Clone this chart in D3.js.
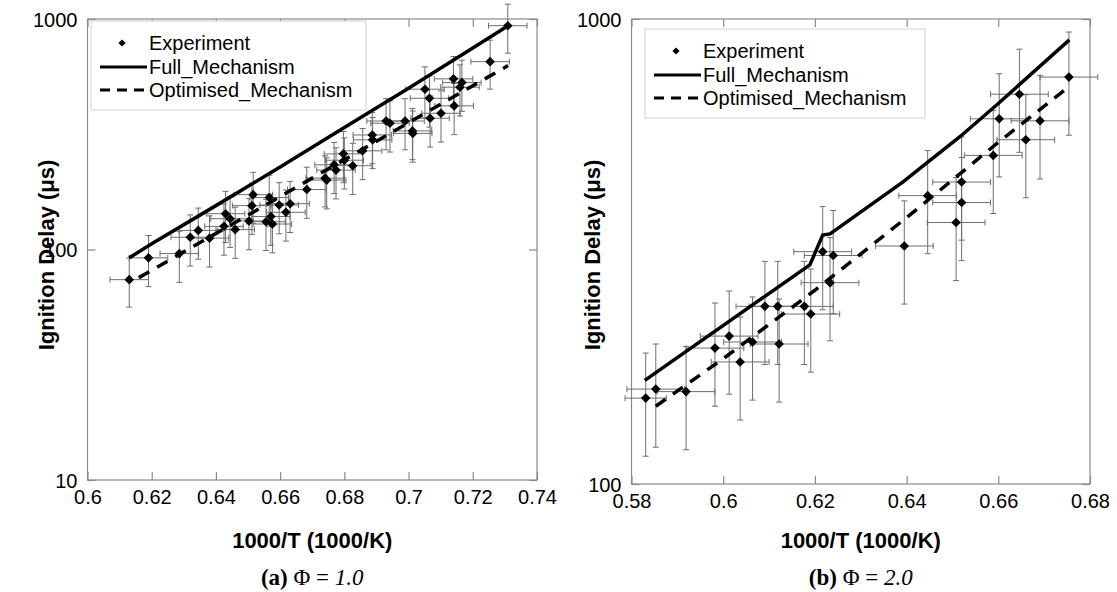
<!DOCTYPE html>
<html>
<head>
<meta charset="utf-8">
<script src="https://cdn.jsdelivr.net/npm/d3@7"></script>
<style>
  body { margin: 0; background: #fff; }
  svg { display: block; }
  text { font-family: "Liberation Sans", Arial, sans-serif; fill: #000; }
</style>
</head>
<body>
<svg id="chart" width="1117" height="592"></svg>
<script>
// ---- panel (a) phi = 1.0 ----
// experiment: [1000/T, delay (us), x error, relative y error]
const expA = [
  [0.613, 74, 0.006, 0.24], [0.619, 92, 0.006, 0.25], [0.6286, 96, 0.006, 0.25],
  [0.632, 113, 0.006, 0.25], [0.6345, 121, 0.006, 0.25], [0.638, 112, 0.006, 0.25],
  [0.6425, 126, 0.006, 0.25], [0.643, 143, 0.006, 0.25], [0.6444, 136, 0.006, 0.25],
  [0.646, 122, 0.006, 0.25], [0.6503, 133, 0.006, 0.25], [0.6512, 155, 0.006, 0.25],
  [0.6516, 173, 0.006, 0.25], [0.6556, 132, 0.006, 0.25], [0.6566, 168, 0.006, 0.25],
  [0.6571, 139, 0.006, 0.25], [0.6576, 129, 0.006, 0.25], [0.6597, 156, 0.006, 0.25],
  [0.6618, 145, 0.006, 0.25], [0.6631, 158, 0.006, 0.25], [0.6683, 182, 0.006, 0.25],
  [0.674, 204, 0.006, 0.25], [0.6745, 200, 0.006, 0.25], [0.6768, 233, 0.006, 0.25],
  [0.6774, 221, 0.006, 0.25], [0.6797, 260, 0.006, 0.25], [0.680, 244, 0.006, 0.25],
  [0.6826, 231, 0.006, 0.25], [0.6857, 268, 0.006, 0.25], [0.6887, 314, 0.006, 0.25],
  [0.6888, 299, 0.006, 0.25], [0.693, 361, 0.006, 0.25], [0.6942, 353, 0.006, 0.25],
  [0.6989, 361, 0.006, 0.25], [0.7012, 327, 0.006, 0.25], [0.7013, 319, 0.006, 0.25],
  [0.7051, 496, 0.006, 0.25], [0.7065, 453, 0.006, 0.25], [0.7067, 371, 0.006, 0.25],
  [0.7101, 390, 0.006, 0.25], [0.714, 550, 0.006, 0.25], [0.7142, 420, 0.006, 0.25],
  [0.716, 506, 0.006, 0.25], [0.7166, 530, 0.006, 0.25], [0.7254, 653, 0.006, 0.24],
  [0.7309, 935, 0.006, 0.24]
]
const fullA_x = [0.613, 0.62, 0.64, 0.66, 0.68, 0.70, 0.72, 0.731]
const fullA_y = [92, 106, 155, 228, 338, 501, 749, 935]
const optA_x = [0.616, 0.63, 0.65, 0.67, 0.69, 0.71, 0.731]
const optA_y = [75.5, 97.7, 141, 204, 295, 427, 628]
const ticksAx = [0.6, 0.62, 0.64, 0.66, 0.68, 0.7, 0.72, 0.74]
const ticksAy = [10, 100, 1000]

// ---- panel (b) phi = 2.0 ----
const expB = [
  [0.5831, 153, 0.0045, 0.25], [0.5853, 160, 0.0063, 0.25], [0.5919, 158, 0.0063, 0.25],
  [0.5982, 196, 0.0063, 0.25], [0.6013, 208, 0.0063, 0.25], [0.6037, 183, 0.0063, 0.25],
  [0.6064, 202, 0.0063, 0.25], [0.6091, 241, 0.0063, 0.25], [0.6119, 241, 0.0063, 0.25],
  [0.6122, 200, 0.0063, 0.25], [0.6177, 241, 0.0063, 0.25], [0.6191, 232, 0.0063, 0.25],
  [0.6217, 316, 0.0063, 0.25], [0.624, 310, 0.0063, 0.25], [0.6233, 271, 0.0063, 0.25],
  [0.6395, 325, 0.0063, 0.25], [0.6446, 417, 0.0063, 0.25], [0.6508, 365, 0.0063, 0.25],
  [0.652, 446, 0.0063, 0.25], [0.652, 403, 0.0063, 0.25], [0.6589, 509, 0.0063, 0.25],
  [0.6602, 610, 0.0063, 0.25], [0.6646, 689, 0.0063, 0.25], [0.666, 550, 0.0063, 0.25],
  [0.6691, 604, 0.0063, 0.25], [0.6754, 750, 0.0063, 0.25]
]
const fullB_x = [0.5829, 0.6189, 0.6217, 0.6233, 0.6393, 0.6429, 0.6517, 0.66, 0.6755]
const fullB_y = [167, 296, 343, 345, 447, 477, 559, 658, 902]
const optB_x = [0.5853, 0.60, 0.62, 0.64, 0.66, 0.6746]
const optB_y = [147, 186, 261, 374, 543, 705]
const ticksBx = [0.58, 0.6, 0.62, 0.64, 0.66, 0.68]
const ticksBy = [100, 1000]

const legendLabels = ['Experiment', 'Full_Mechanism', 'Optimised_Mechanism']

const svg = d3.select('#chart')
const diamond = (r) => `M0,${-r}L${r},0L0,${r}L${-r},0Z`

function panel(cfg) {
  const x = d3.scaleLinear().domain(d3.extent(cfg.xTicks)).range([cfg.left, cfg.right])
  const y = d3.scaleLog().domain(d3.extent(cfg.yTicks)).range([cfg.bottom, cfg.top])
  const g = svg.append('g')

  // frame
  g.append('rect')
    .attr('x', cfg.left).attr('y', cfg.top)
    .attr('width', cfg.right - cfg.left).attr('height', cfg.bottom - cfg.top)
    .attr('fill', 'none').attr('stroke', '#8a8a8a').attr('stroke-width', 1.2)

  // axes with inward ticks, mirrored on the opposite sides
  const bottom = g.append('g').attr('transform', `translate(0,${cfg.bottom})`)
    .call(d3.axisBottom(x).tickValues(cfg.xTicks).tickSize(-8).tickPadding(10).tickFormat(d3.format('')))
  const top = g.append('g').attr('transform', `translate(0,${cfg.top})`)
    .call(d3.axisTop(x).tickValues(cfg.xTicks).tickSize(-8).tickFormat(''))
  const left = g.append('g').attr('transform', `translate(${cfg.left},0)`)
    .call(d3.axisLeft(y).tickValues(cfg.yTicks).tickSize(-8).tickPadding(10).tickFormat(d3.format('d')))
  const right = g.append('g').attr('transform', `translate(${cfg.right},0)`)
    .call(d3.axisRight(y).tickValues(cfg.yTicks).tickSize(-8).tickFormat(''))
  ;[bottom, top, left, right].forEach(a => {
    a.select('.domain').remove()
    a.selectAll('line').attr('stroke', '#8a8a8a').attr('stroke-width', 1.2)
    a.selectAll('text').style('font-size', '20px').style('font-family', '"Liberation Sans", Arial, sans-serif').attr('fill', '#000')
  })
  left.selectAll('text').attr('dy', '0.36em')

  // error bars
  const eb = g.append('g').attr('stroke', '#6e6e6e').attr('stroke-width', 1)
  const cap = 3
  cfg.exp.forEach(([vx, vy, dx, fy]) => {
    const px = x(vx), py = y(vy)
    const y0 = y(vy * (1 - fy)), y1 = y(vy * (1 + fy))
    const x0 = x(vx - dx), x1 = x(vx + dx)
    eb.append('line').attr('x1', px).attr('x2', px).attr('y1', y0).attr('y2', y1)
    eb.append('line').attr('x1', px - cap).attr('x2', px + cap).attr('y1', y0).attr('y2', y0)
    eb.append('line').attr('x1', px - cap).attr('x2', px + cap).attr('y1', y1).attr('y2', y1)
    eb.append('line').attr('x1', x0).attr('x2', x1).attr('y1', py).attr('y2', py)
    eb.append('line').attr('x1', x0).attr('x2', x0).attr('y1', py - cap).attr('y2', py + cap)
    eb.append('line').attr('x1', x1).attr('x2', x1).attr('y1', py - cap).attr('y2', py + cap)
  })

  // model lines
  const line = d3.line().x(d => x(d[0])).y(d => y(d[1]))
  g.append('path').datum(d3.zip(cfg.fullX, cfg.fullY)).attr('d', line)
    .attr('fill', 'none').attr('stroke', '#000').attr('stroke-width', 3.5)
  g.append('path').datum(d3.zip(cfg.optX, cfg.optY)).attr('d', line)
    .attr('fill', 'none').attr('stroke', '#000').attr('stroke-width', 3.5)
    .attr('stroke-dasharray', '12,9')

  // experiment markers
  g.append('g').selectAll('path').data(cfg.exp).join('path')
    .attr('d', diamond(4.8))
    .attr('transform', d => `translate(${x(d[0])},${y(d[1])})`)
    .attr('fill', '#000')

  // legend
  const lg = g.append('g').attr('transform', `translate(${cfg.legend[0]},${cfg.legend[1]})`)
  lg.append('rect').attr('width', cfg.legend[2]).attr('height', 89)
    .attr('fill', '#fff').attr('stroke', '#cfcfcf').attr('stroke-width', 1)
  const rows = [22, 46, 69]
  lg.append('path').attr('d', diamond(3.6)).attr('transform', `translate(31,${rows[0]})`)
  lg.append('line').attr('x1', 9).attr('x2', 56).attr('y1', rows[1]).attr('y2', rows[1])
    .attr('stroke', '#000').attr('stroke-width', 3)
  lg.append('line').attr('x1', 9).attr('x2', 56).attr('y1', rows[2]).attr('y2', rows[2])
    .attr('stroke', '#000').attr('stroke-width', 3).attr('stroke-dasharray', '10,7')
  lg.selectAll('text.lab').data(legendLabels).join('text').attr('class', 'lab')
    .attr('x', 58).attr('y', (d, i) => rows[i]).attr('dy', '0.36em')
    .style('font-size', '20px').text(d => d)

  // axis titles
  const cx = (cfg.left + cfg.right) / 2
  g.append('text').attr('x', cx).attr('y', 540).attr('dy', '0.36em')
    .attr('text-anchor', 'middle').style('font-size', '22px').style('font-weight', 'bold')
    .text('1000/T (1000/K)')
  g.append('text').attr('transform', `translate(${cfg.yTitleX},255) rotate(-90)`)
    .attr('dy', '0.36em').attr('text-anchor', 'middle')
    .style('font-size', '22px').style('font-weight', 'bold')
    .text('Ignition Delay (μs)')

  // caption
  const capT = g.append('text').attr('x', cx).attr('y', 577).attr('dy', '0.36em')
    .attr('text-anchor', 'middle')
    .style('font-family', '"Liberation Serif", "Times New Roman", serif').style('font-size', '23px')
  capT.append('tspan').style('font-weight', 'bold').text(cfg.tag)
  capT.append('tspan').text(' Φ = ')
  capT.append('tspan').style('font-style', 'italic').text(cfg.phi)
}

panel({
  left: 87.5, right: 537, top: 19, bottom: 480,
  xTicks: ticksAx, yTicks: ticksAy,
  exp: expA, fullX: fullA_x, fullY: fullA_y, optX: optA_x, optY: optA_y,
  legend: [91, 21, 275], yTitleX: 46, tag: '(a)', phi: '1.0'
})
panel({
  left: 631.5, right: 1090, top: 19, bottom: 484,
  xTicks: ticksBx, yTicks: ticksBy,
  exp: expB, fullX: fullB_x, fullY: fullB_y, optX: optB_x, optY: optB_y,
  legend: [645, 29, 280], yTitleX: 592, tag: '(b)', phi: '2.0'
})
</script>
</body>
</html>
